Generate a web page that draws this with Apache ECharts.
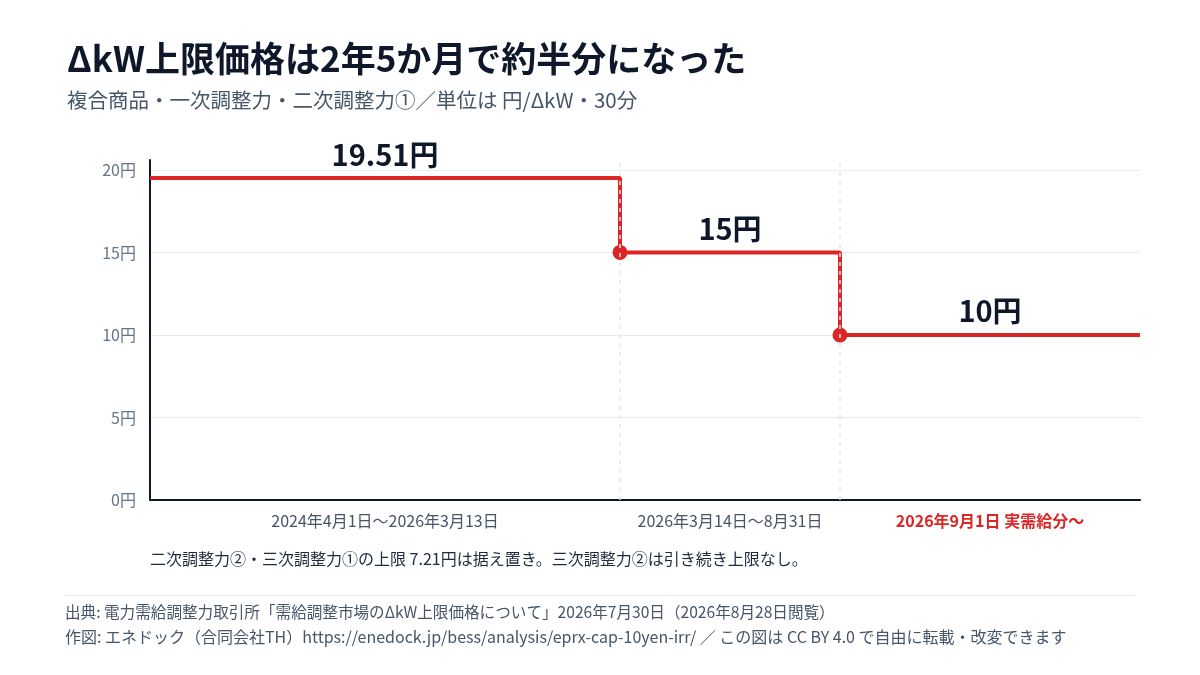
<!DOCTYPE html>
<html>
<head>
<meta charset="utf-8">
<script src="https://cdn.jsdelivr.net/npm/echarts@6/dist/echarts.min.js"></script>
<style>
  html, body { margin: 0; padding: 0; background: #fff; }
  #chart { width: 1200px; height: 675px; }
</style>
</head>
<body>
<div id="chart"></div>
<script>
// data
var periods = ['2024年4月1日〜2026年3月13日', '2026年3月14日〜8月31日', '2026年9月1日 実需給分〜'];
var prices = [19.51, 15, 10];
var periodSpan = [4.7, 2.2, 3.0]; // display width of each period on the x axis
var yMax = 20.6;

var FONT = '"Noto Sans CJK JP", "Noto Sans", sans-serif';
var RED = '#dc2626';

// cumulative starts of each period
var starts = [];
var acc = 0;
for (var i = 0; i < periodSpan.length; i++) {
  starts.push(acc);
  acc += periodSpan[i];
}
var xEnd = acc;

// step points: start of each period, plus the end of the last one
var stepData = prices.map(function (p, i) {
  return { value: [starts[i], p], symbol: i === 0 ? 'none' : 'circle' };
});
stepData.push({ value: [xEnd, prices[prices.length - 1]], symbol: 'none' });

var centers = prices.map(function (p, i) { return starts[i] + periodSpan[i] / 2; });

var chart = echarts.init(document.getElementById('chart'));
var option = {
  backgroundColor: '#ffffff',
  textStyle: { fontFamily: FONT },
  title: {
    text: 'ΔkW上限価格は2年5か月で約半分になった',
    subtext: '複合商品・一次調整力・二次調整力①／単位は 円/ΔkW・30分',
    left: 62,
    top: 36,
    itemGap: 14,
    textStyle: { fontFamily: FONT, fontSize: 35, fontWeight: 'bold', color: '#0f172a' },
    subtextStyle: { fontFamily: FONT, fontSize: 20.5, color: '#475569' }
  },
  grid: { left: 150, right: 60, top: 160, bottom: 175 },
  xAxis: {
    type: 'value',
    min: 0,
    max: xEnd,
    axisLine: { show: true, lineStyle: { color: '#0f172a', width: 2 } },
    axisTick: { show: false },
    axisLabel: { show: false },
    splitLine: { show: false }
  },
  yAxis: {
    type: 'value',
    min: 0,
    max: yMax,
    interval: 5,
    axisLine: { show: true, lineStyle: { color: '#0f172a', width: 2 } },
    axisTick: { show: false },
    axisLabel: {
      formatter: function (v) { return v % 5 === 0 ? v + '円' : ''; },
      color: '#64748b',
      fontSize: 16,
      margin: 14,
      fontFamily: FONT
    },
    splitLine: {
      show: true,
      lineStyle: { color: ['#e5e9f0', '#e5e9f0', '#e5e9f0', '#e5e9f0', '#eceef4', 'rgba(0,0,0,0)'], width: 1 }
    }
  },
  series: [
    {
      type: 'line',
      step: 'end',
      data: stepData,
      lineStyle: { color: RED, width: 4 },
      itemStyle: { color: RED, opacity: 1 },
      symbolSize: 15,
      z: 3,
      markLine: {
        silent: true,
        symbol: 'none',
        label: { show: false },
        lineStyle: { color: '#e2e8f0', type: [4, 5], width: 1.5 },
        data: starts.slice(1).map(function (s) { return { xAxis: s }; })
      }
    },
    {
      type: 'scatter',
      symbolSize: 0,
      silent: true,
      itemStyle: { opacity: 1 },
      data: prices.map(function (p, i) { return [centers[i], p]; }),
      label: {
        show: true,
        position: 'top',
        distance: 9,
        fontSize: 29,
        fontWeight: 'bold',
        color: '#0f172a',
        fontFamily: FONT,
        formatter: function (d) { return d.value[1] + '円'; }
      }
    },
    {
      type: 'scatter',
      symbolSize: 0,
      silent: true,
      itemStyle: { opacity: 1 },
      data: periods.map(function (name, i) {
        var last = i === periods.length - 1;
        return {
          value: [centers[i], 0],
          name: name,
          label: {
            color: last ? RED : '#475569',
            fontWeight: last ? 'bold' : 'normal'
          }
        };
      }),
      label: {
        show: true,
        position: 'bottom',
        distance: 13,
        fontSize: 16,
        fontFamily: FONT,
        formatter: function (d) { return d.name; }
      }
    }
  ],
  graphic: [
    {
      type: 'text',
      left: 150,
      top: 551,
      style: {
        text: '二次調整力②・三次調整力①の上限 7.21円は据え置き。三次調整力②は引き続き上限なし。',
        fontFamily: FONT, fontSize: 16, fill: '#1e293b'
      }
    },
    {
      type: 'rect',
      shape: { x: 65, y: 595, width: 1070, height: 1 },
      style: { fill: '#e5e7eb' }
    },
    {
      type: 'text',
      left: 65,
      top: 604,
      style: {
        text: '出典: 電力需給調整力取引所「需給調整市場のΔkW上限価格について」2026年7月30日（2026年8月28日閲覧）',
        fontFamily: FONT, fontSize: 15.6, fill: '#475569'
      }
    },
    {
      type: 'text',
      left: 65,
      top: 629,
      style: {
        text: '作図: エネドック（合同会社TH）https://enedock.jp/bess/analysis/eprx-cap-10yen-irr/ ／ この図は CC BY 4.0 で自由に転載・改変できます',
        fontFamily: FONT, fontSize: 16, fill: '#475569'
      }
    }
  ]
};
chart.setOption(option);
</script>
</body>
</html>
